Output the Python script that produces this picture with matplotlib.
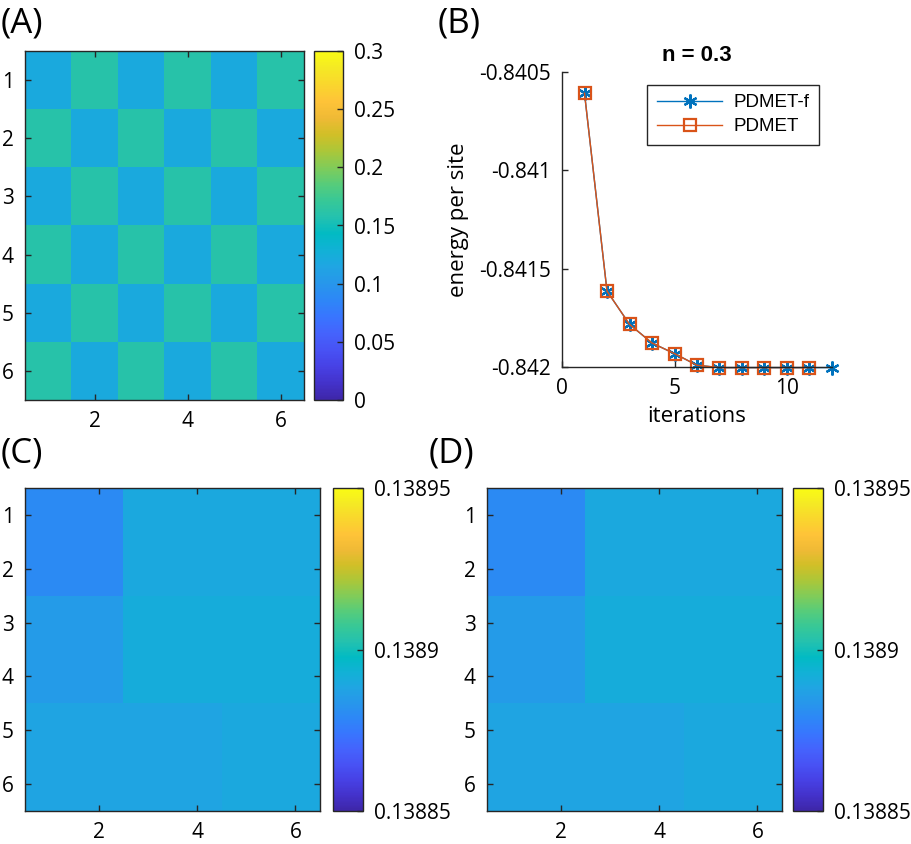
import numpy as np
import matplotlib
matplotlib.use("Agg")
import matplotlib.pyplot as plt
from matplotlib.colors import LinearSegmentedColormap

plt.rcParams["font.family"] = ["Open Sans", "DejaVu Sans"]
plt.rcParams["axes.unicode_minus"] = False

# --- data -----------------------------------------------------------------
# (A) site occupation, 6x6 checkerboard
occ_a = [
    [0.120, 0.160, 0.120, 0.160, 0.120, 0.160],
    [0.160, 0.120, 0.160, 0.120, 0.160, 0.120],
    [0.120, 0.160, 0.120, 0.160, 0.120, 0.160],
    [0.160, 0.120, 0.160, 0.120, 0.160, 0.120],
    [0.120, 0.160, 0.120, 0.160, 0.120, 0.160],
    [0.160, 0.120, 0.160, 0.120, 0.160, 0.120],
]

# (B) energy per site vs iterations
iters_f = [1, 2, 3, 4, 5, 6, 7, 8, 9, 10, 11, 12]
energy_f = [-0.840608, -0.841614, -0.841783, -0.841878, -0.841932, -0.841991,
            -0.842003, -0.842003, -0.842003, -0.842003, -0.842003, -0.842003]
iters_p = [1, 2, 3, 4, 5, 6, 7, 8, 9, 10, 11]
energy_p = [-0.840608, -0.841614, -0.841783, -0.841878, -0.841932, -0.841991,
            -0.842003, -0.842003, -0.842003, -0.842003, -0.842003]

# (C) and (D) site occupation
occ_c = [
    [0.1388800, 0.1388800, 0.1388897, 0.1388897, 0.1388897, 0.1388897],
    [0.1388800, 0.1388800, 0.1388897, 0.1388897, 0.1388897, 0.1388897],
    [0.1388850, 0.1388850, 0.1388913, 0.1388913, 0.1388913, 0.1388913],
    [0.1388850, 0.1388850, 0.1388913, 0.1388913, 0.1388913, 0.1388913],
    [0.1388880, 0.1388880, 0.1388880, 0.1388880, 0.1388897, 0.1388897],
    [0.1388880, 0.1388880, 0.1388880, 0.1388880, 0.1388897, 0.1388897],
]
occ_d = [
    [0.1388800, 0.1388800, 0.1388897, 0.1388897, 0.1388897, 0.1388897],
    [0.1388800, 0.1388800, 0.1388897, 0.1388897, 0.1388897, 0.1388897],
    [0.1388850, 0.1388850, 0.1388913, 0.1388913, 0.1388913, 0.1388913],
    [0.1388850, 0.1388850, 0.1388913, 0.1388913, 0.1388913, 0.1388913],
    [0.1388880, 0.1388880, 0.1388880, 0.1388880, 0.1388897, 0.1388897],
    [0.1388880, 0.1388880, 0.1388880, 0.1388880, 0.1388897, 0.1388897],
]

cbar_a_ticks = [0, 0.05, 0.1, 0.15, 0.2, 0.25, 0.3]
cbar_a_labels = ["0", "0.05", "0.1", "0.15", "0.2", "0.25", "0.3"]
cbar_c_ticks = [0.13885, 0.1389, 0.13895]
cbar_c_labels = ["0.13885", "0.1389", "0.13895"]
energy_ticks = [-0.842, -0.8415, -0.841, -0.8405]
energy_labels = ["-0.842", "-0.8415", "-0.841", "-0.8405"]

# MATLAB parula, every third entry of the 64-colour table (evenly spaced)
parula = LinearSegmentedColormap.from_list("parula", [
    (0.2422, 0.1504, 0.6603), (0.2647, 0.1978, 0.7952), (0.2783, 0.2559, 0.8991),
    (0.2810, 0.3228, 0.9579), (0.2699, 0.3892, 0.9906), (0.2206, 0.4603, 0.9973),
    (0.1786, 0.5289, 0.9682), (0.1540, 0.5902, 0.9218), (0.1248, 0.6459, 0.8883),
    (0.0689, 0.6948, 0.8394), (0.0067, 0.7312, 0.7660), (0.1408, 0.7584, 0.6842),
    (0.2161, 0.7843, 0.5923), (0.3406, 0.8008, 0.4789), (0.5044, 0.7993, 0.3480),
    (0.6720, 0.7793, 0.2227), (0.8203, 0.7498, 0.1535), (0.9393, 0.7288, 0.2100),
    (0.9970, 0.7659, 0.2199), (0.9786, 0.8386, 0.1766), (0.9597, 0.9135, 0.1423),
    (0.9769, 0.9839, 0.0805),
])

W, H = 911, 844
AX_COLOR = "#262626"
TICK_FS = 15


def px_axes(fig, x0, y0, x1, y1):
    return fig.add_axes([x0 / W, 1 - y1 / H, (x1 - x0) / W, (y1 - y0) / H])


def heatmap(fig, box, cbox, data, vmin, vmax, cticks, clabels):
    ax = px_axes(fig, *box)
    im = ax.imshow(np.array(data), cmap=parula, vmin=vmin, vmax=vmax,
                   extent=(0.5, 6.5, 6.5, 0.5), aspect="auto",
                   interpolation="nearest")
    ax.set_xticks([2, 4, 6])
    ax.set_yticks([1, 2, 3, 4, 5, 6])
    ax.tick_params(direction="in", length=4, width=1, color=AX_COLOR,
                   top=True, right=True, labelsize=TICK_FS, pad=8)
    for sp in ax.spines.values():
        sp.set_color(AX_COLOR)
        sp.set_linewidth(1)
    cax = px_axes(fig, *cbox)
    cb = fig.colorbar(im, cax=cax)
    cb.set_ticks(cticks)
    cb.set_ticklabels(clabels)
    cax.tick_params(direction="in", length=4, width=1, color=AX_COLOR,
                    labelsize=TICK_FS, pad=8)
    cb.outline.set_edgecolor(AX_COLOR)
    cb.outline.set_linewidth(1)
    return ax


fig = plt.figure(figsize=(W / 100, H / 100), dpi=100)

heatmap(fig, (25, 51, 304, 400), (314, 51, 343, 400), occ_a, 0, 0.3,
        cbar_a_ticks, cbar_a_labels)
heatmap(fig, (25, 488, 320, 811), (333, 488, 363, 811), occ_c, 0.13885, 0.13895,
        cbar_c_ticks, cbar_c_labels)
heatmap(fig, (487, 488, 782, 811), (793, 488, 823, 811), occ_d, 0.13885, 0.13895,
        cbar_c_ticks, cbar_c_labels)

# (B) convergence
axb = px_axes(fig, 562, 72, 832, 367)
axb.plot(iters_f, energy_f, color=(0, 0.447, 0.741), lw=1,
         marker=(6, 2, 0), ms=10, mew=1.6, label="PDMET-f", clip_on=False)
axb.plot(iters_p, energy_p, color=(0.85, 0.325, 0.098), lw=1,
         marker="s", ms=8, mew=1.6, mfc="none", label="PDMET", clip_on=False)
axb.set_xlim(0, 12)
axb.set_ylim(-0.842, -0.8405)
axb.set_xticks([0, 5, 10])
axb.set_yticks(energy_ticks)
axb.set_yticklabels(energy_labels)
axb.spines["top"].set_visible(False)
axb.spines["right"].set_visible(False)
for sp in ("left", "bottom"):
    axb.spines[sp].set_color(AX_COLOR)
    axb.spines[sp].set_linewidth(1)
axb.tick_params(direction="in", length=4, width=1, color=AX_COLOR,
                labelsize=TICK_FS, pad=8)
axb.set_xlabel("iterations", fontsize=16, labelpad=5)
axb.set_ylabel("energy per site", fontsize=16, labelpad=7)
axb.set_title("n = 0.3", fontsize=16, fontweight="bold",
              family=["Liberation Sans", "DejaVu Sans"], pad=8)
leg = axb.legend(loc="upper right", bbox_to_anchor=(0.952, 0.956),
                 borderaxespad=0, fancybox=False, framealpha=1,
                 handlelength=3.5, handletextpad=0.6, labelspacing=0.35,
                 borderpad=0.5,
                 prop={"family": ["Liberation Sans", "DejaVu Sans"], "size": 13.5})
leg.get_frame().set_edgecolor(AX_COLOR)
leg.get_frame().set_linewidth(1)

# panel letters
for label, x, y in [("(A)", 1, 23), ("(B)", 438, 23), ("(C)", 1, 453), ("(D)", 429, 453)]:
    fig.text(x / W, 1 - y / H, label, fontsize=25, va="center", ha="left")

fig.savefig("out.png", dpi=100)
